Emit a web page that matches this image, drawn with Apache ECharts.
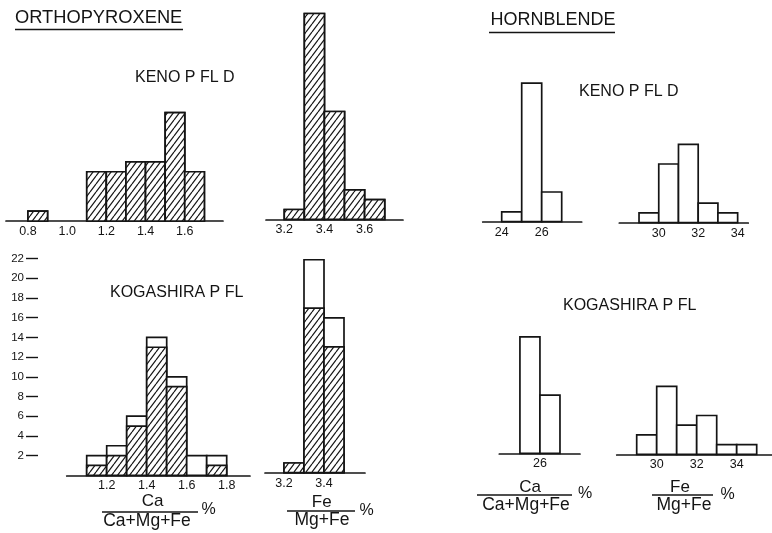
<!DOCTYPE html>
<html>
<head>
<meta charset="utf-8">
<script src="https://cdn.jsdelivr.net/npm/echarts@6/dist/echarts.min.js"></script>
<style>
  html, body { margin: 0; padding: 0; background: #fff; }
  #chart { width: 772px; height: 533px; }
</style>
</head>
<body>
<div id="chart"></div>
<script>
// ---- Orthopyroxene, Ca/(Ca+Mg+Fe) % ----
const opxCaKenoBins   = [0.8, 1.1, 1.2, 1.3, 1.4, 1.5, 1.6];
const opxCaKenoCounts = [1, 5, 5, 6, 6, 11, 5];
const opxCaKenoTicks  = [0.8, 1.0, 1.2, 1.4, 1.6];

const opxCaKogaBins    = [1.1, 1.2, 1.3, 1.4, 1.5, 1.6, 1.7];
const opxCaKogaTotal   = [2, 3, 6, 14, 10, 2, 2];
const opxCaKogaHatched = [1, 2, 5, 13, 9, 0, 1];
const opxCaKogaTicks   = [1.2, 1.4, 1.6, 1.8];

// ---- Orthopyroxene, Fe/(Mg+Fe) % ----
const opxFeKenoBins   = [3.2, 3.3, 3.4, 3.5, 3.6];
const opxFeKenoCounts = [1, 21, 11, 3, 2];
const opxFeKenoTicks  = [3.2, 3.4, 3.6];

const opxFeKogaBins    = [3.2, 3.3, 3.4];
const opxFeKogaTotal   = [1, 22, 16];
const opxFeKogaHatched = [1, 17, 13];
const opxFeKogaTicks   = [3.2, 3.4];

// ---- Hornblende ----
const hbCaKenoBins   = [24, 25, 26];
const hbCaKenoCounts = [1, 14, 3];
const hbCaKenoTicks  = [24, 26];

const hbFeKenoBins   = [29, 30, 31, 32, 33];
const hbFeKenoCounts = [1, 6, 8, 2, 1];
const hbFeKenoTicks  = [30, 32, 34];

const hbCaKogaBins   = [25, 26];
const hbCaKogaCounts = [12, 6];
const hbCaKogaTicks  = [26];

const hbFeKogaBins   = [29, 30, 31, 32, 33, 34];
const hbFeKogaCounts = [2, 7, 3, 4, 1, 1];
const hbFeKogaTicks  = [30, 32, 34];

// count axis of the lower orthopyroxene panel
const countTicks = [2, 4, 6, 8, 10, 12, 14, 16, 18, 20, 22];

const INK = '#141414';
const FONT = '"Liberation Sans", Arial, sans-serif';

// diagonal hatching used for the hatched bins
function hatchPattern() {
  const c = document.createElement('canvas');
  c.width = 6; c.height = 8;
  const g = c.getContext('2d');
  g.fillStyle = '#fff';
  g.fillRect(0, 0, 6, 8);
  g.strokeStyle = INK;
  g.lineWidth = 1.2;
  for (const dx of [-6, 0, 6]) {
    g.beginPath();
    g.moveTo(dx, 8);
    g.lineTo(dx + 6, 0);
    g.stroke();
  }
  return { image: c, repeat: 'repeat' };
}
const HATCH = hatchPattern();

// rows of [binStart, binEnd, total, hatchedPart]
function rows(bins, width, total, hatched) {
  return bins.map((b, i) => [b, +(b + width).toFixed(3), total[i], hatched ? hatched[i] : 0]);
}

// panel layout: pixel frame plus the value range of each x axis
const panels = [
  { data: rows(opxCaKenoBins, 0.1, opxCaKenoCounts, opxCaKenoCounts), ticks: opxCaKenoTicks, dec: 1,
    left: 6, width: 217, xMin: 0.688, xMax: 1.795, base: 221, ppu: 9.85 },
  { data: rows(opxFeKenoBins, 0.1, opxFeKenoCounts, opxFeKenoCounts), ticks: opxFeKenoTicks, dec: 1,
    left: 266, width: 137, xMin: 3.109, xMax: 3.791, base: 219.3, ppu: 9.8 },
  { data: rows(opxCaKogaBins, 0.1, opxCaKogaTotal, opxCaKogaHatched), ticks: opxCaKogaTicks, dec: 1,
    left: 66.7, width: 183.3, xMin: 1.0, xMax: 1.9165, base: 475.3, ppu: 9.85, countAxis: true },
  { data: rows(opxFeKogaBins, 0.1, opxFeKogaTotal, opxFeKogaHatched), ticks: opxFeKogaTicks, dec: 1,
    left: 265, width: 100, xMin: 3.105, xMax: 3.605, base: 472.7, ppu: 9.68 },
  { data: rows(hbCaKenoBins, 1, hbCaKenoCounts), ticks: hbCaKenoTicks, dec: 0,
    left: 482.7, width: 99, xMin: 23.05, xMax: 28, base: 221.7, ppu: 9.9 },
  { data: rows(hbFeKenoBins, 1, hbFeKenoCounts), ticks: hbFeKenoTicks, dec: 0,
    left: 619.3, width: 129, xMin: 28.0, xMax: 34.54, base: 222.7, ppu: 9.78 },
  { data: rows(hbCaKogaBins, 1, hbCaKogaCounts), ticks: hbCaKogaTicks, dec: 0,
    left: 499.3, width: 80.7, xMin: 23.97, xMax: 28.0, base: 453.3, ppu: 9.7 },
  { data: rows(hbFeKogaBins, 1, hbFeKogaCounts), ticks: hbFeKogaTicks, dec: 0,
    left: 616.7, width: 155, xMin: 28.0, xMax: 35.75, base: 454.3, ppu: 9.7 }
];

const Y_MAX = 22;

function renderBin(params, api) {
  const x0 = api.value(0), x1 = api.value(1);
  const total = api.value(2), hatched = api.value(3);
  const p0 = api.coord([x0, 0]);
  const pt = api.coord([x1, total]);
  const children = [{
    type: 'rect',
    shape: { x: p0[0], y: pt[1], width: pt[0] - p0[0], height: p0[1] - pt[1] },
    style: { fill: '#fff', stroke: INK, lineWidth: 1.7 }
  }];
  if (hatched > 0) {
    const ph = api.coord([x1, hatched]);
    children.push({
      type: 'rect',
      shape: { x: p0[0], y: ph[1], width: ph[0] - p0[0], height: p0[1] - ph[1] },
      style: { fill: HATCH, stroke: INK, lineWidth: 1.7 }
    });
  }
  return { type: 'group', children };
}

const grid = [], xAxis = [], yAxis = [], series = [];
panels.forEach((p, i) => {
  const h = Y_MAX * p.ppu;
  grid.push({ left: p.left, top: p.base - h, width: p.width, height: h });
  xAxis.push({
    type: 'value', gridIndex: i, min: p.xMin, max: p.xMax,
    splitLine: { show: false },
    axisLine: { show: true, onZero: false, lineStyle: { color: INK, width: 1.7 } },
    axisTick: { show: false },
    axisLabel: {
      customValues: p.ticks, margin: 4,
      color: INK, fontFamily: FONT, fontSize: 12.5,
      formatter: v => Number(v).toFixed(p.dec)
    }
  });
  yAxis.push(p.countAxis ? {
    type: 'value', gridIndex: i, min: 0, max: Y_MAX, position: 'left', offset: 28.7,
    splitLine: { show: false },
    axisLine: { show: false },
    axisTick: { show: true, length: 12, customValues: countTicks, lineStyle: { color: INK, width: 1.4 } },
    axisLabel: { customValues: countTicks, margin: 14, color: INK, fontFamily: FONT, fontSize: 11.5 }
  } : {
    type: 'value', gridIndex: i, min: 0, max: Y_MAX, show: false
  });
  series.push({
    type: 'custom', xAxisIndex: i, yAxisIndex: i,
    renderItem: renderBin, clip: false,
    encode: { x: [0, 1], y: [2, 3] },
    data: p.data
  });
});

function text(str, x, y, size, align) {
  return {
    type: 'text', x, y,
    style: { text: str, fill: INK, font: size + 'px ' + FONT, align: align || 'center', verticalAlign: 'middle' }
  };
}
function line(x1, x2, y, w) {
  return { type: 'line', shape: { x1, y1: y, x2, y2: y }, style: { stroke: INK, lineWidth: w || 1.3 } };
}

const graphic = [
  text('ORTHOPYROXENE', 15, 17.5, 18.3, 'left'),
  line(15, 183, 29.5, 1.4),
  text('HORNBLENDE', 490.5, 20, 18, 'left'),
  line(489, 615, 32.5, 1.4),
  text('KENO P FL D', 135, 77.5, 16, 'left'),
  text('KENO P FL D', 579, 91.5, 16, 'left'),
  text('KOGASHIRA P FL', 110, 292.5, 16, 'left'),
  text('KOGASHIRA P FL', 563, 306, 16, 'left'),

  // Ca/(Ca+Mg+Fe) % under the orthopyroxene Ca panel
  text('Ca', 152.5, 501, 17),
  line(102, 198, 512),
  text('Ca+Mg+Fe', 147, 521, 17.5),
  text('%', 208.5, 509.5, 16),

  // Fe/(Mg+Fe) % under the orthopyroxene Fe panel
  text('Fe', 321.7, 502, 17),
  line(287, 355, 511),
  text('Mg+Fe', 322, 520, 17.5),
  text('%', 366.7, 511, 16),

  // Ca/(Ca+Mg+Fe) % under the hornblende Ca panel
  text('Ca', 530, 487, 17),
  line(477, 572, 495),
  text('Ca+Mg+Fe', 526, 505, 17.5),
  text('%', 585, 494, 16),

  // Fe/(Mg+Fe) % under the hornblende Fe panel
  text('Fe', 680, 487.5, 17),
  line(652, 713, 495),
  text('Mg+Fe', 684, 505, 17.5),
  text('%', 727.5, 495, 16)
];

const chart = echarts.init(document.getElementById('chart'), null, { renderer: 'canvas' });
chart.setOption({
  backgroundColor: '#fff',
  animation: false,
  grid, xAxis, yAxis, series, graphic
});
</script>
</body>
</html>
